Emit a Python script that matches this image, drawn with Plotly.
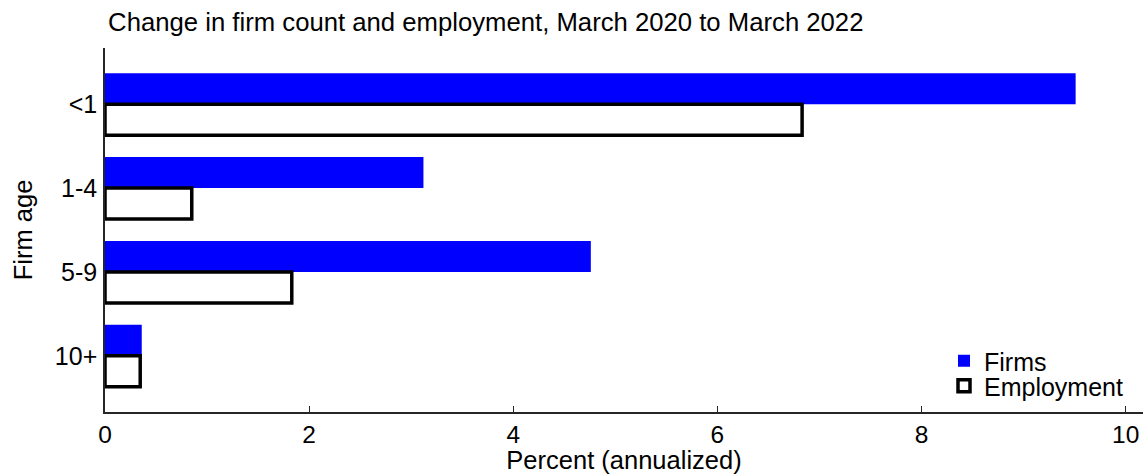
import plotly.graph_objects as go

categories = ["<1", "1-4", "5-9", "10+"]
firms = [9.51, 3.12, 4.76, 0.36]
employment = [6.83, 0.85, 1.83, 0.345]
x_ticks = [0, 2, 4, 6, 8, 10]

FONT = "Liberation Sans, Arial, sans-serif"

fig = go.Figure()
fig.add_trace(go.Bar(
    y=categories, x=firms, orientation="h", name="Firms",
    marker=dict(color="#0000FF", line=dict(width=0)),
    legend="legend",
))
fig.add_trace(go.Bar(
    y=categories, x=employment, orientation="h", name="Employment",
    marker=dict(color="white", line=dict(color="black", width=3.5)),
    legend="legend2",
))

axis_line = "#262626"
legend_common = dict(
    xanchor="left", yanchor="top",
    font=dict(size=25, family=FONT, color="black"),
    tracegroupgap=0, bgcolor="rgba(0,0,0,0)",
)
fig.update_layout(
    width=1143, height=474,
    margin=dict(l=105, r=0, t=48, b=62, autoexpand=False),
    paper_bgcolor="white", plot_bgcolor="white",
    font=dict(family=FONT, size=25, color="black"),
    barmode="group", bargap=0.26, bargroupgap=0,
    title=dict(
        text="Change in firm count and employment, March 2020 to March 2022",
        x=0.003, xref="paper", xanchor="left",
        y=1 - 22 / 474, yref="container", yanchor="middle",
        font=dict(size=25.7, family=FONT, color="black"),
    ),
    xaxis=dict(
        range=[0, 10.17], tickvals=x_ticks, ticktext=[str(v) for v in x_ticks],
        showline=True, linecolor=axis_line, linewidth=1.5,
        ticks="inside", ticklen=6, tickwidth=1, tickcolor=axis_line,
        showgrid=False, zeroline=False, automargin=False,
        tickfont=dict(size=24.5),
        title=dict(text="Percent (annualized)", font=dict(size=25.5)),
    ),
    yaxis=dict(
        categoryorder="array", categoryarray=categories,
        range=[3.67, -0.67],
        showline=True, linecolor=axis_line, linewidth=1.5,
        ticks="", showgrid=False, zeroline=False, automargin=False,
        ticklabelstandoff=1, tickfont=dict(size=25),
        title=dict(text="Firm age", font=dict(size=25.5)),
    ),
    legend=dict(x=(944 - 105) / 1038, y=(412 - 338) / 364, **legend_common),
    legend2=dict(x=(944 - 105) / 1038, y=(412 - 363) / 364, **legend_common),
    showlegend=True,
)

fig.write_html(
    "out.html",
    config={"displayModeBar": False},
    post_script="document.body.style.margin='0';document.body.style.padding='0';",
)
